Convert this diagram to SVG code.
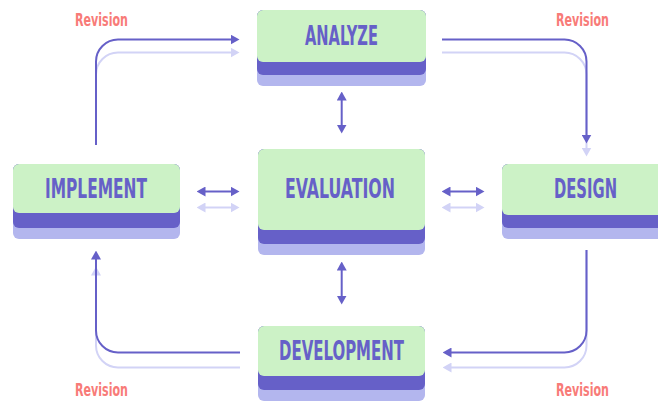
<svg xmlns="http://www.w3.org/2000/svg" width="658" height="401" viewBox="0 0 658 401">
<defs>
<style>
.g{fill:#ccf2c6}
.d{fill:#6660c8}
.l{fill:#b3b6ee}
.t{font-family:"DejaVu Sans","Liberation Sans",sans-serif;font-weight:bold;font-stretch:condensed;fill:#6660c8;font-size:26px}
.r{font-family:"DejaVu Sans","Liberation Sans",sans-serif;font-weight:bold;font-stretch:condensed;fill:#f87b78;font-size:18px}
.cd{fill:none;stroke:#6660c8;stroke-width:2}
.cl{fill:none;stroke:#d2d3f6;stroke-width:2}
</style>
<marker id="ad" viewBox="0 -5 9 10" refX="0.5" refY="0" markerWidth="9" markerHeight="10" markerUnits="userSpaceOnUse" orient="auto-start-reverse"><path d="M0,-5 L9,0 L0,5 z" fill="#6660c8"/></marker>
<marker id="al" viewBox="0 -5 9 10" refX="0.5" refY="0" markerWidth="9" markerHeight="10" markerUnits="userSpaceOnUse" orient="auto-start-reverse"><path d="M0,-5 L9,0 L0,5 z" fill="#d2d3f6"/></marker>
</defs>
<rect width="658" height="401" fill="#ffffff"/>
<g id="connectors">
<path class="cl" d="M96,145 V74.5 A22,22 0 0 1 118,52.5 H231" marker-end="url(#al)"/>
<path class="cd" d="M96,145 V61.5 A22,22 0 0 1 118,39.5 H231" marker-end="url(#ad)"/>
<path class="cl" d="M442,52.5 H564.5 A22,22 0 0 1 586.5,74.5 V148" marker-end="url(#al)"/>
<path class="cd" d="M442,39.5 H564.5 A22,22 0 0 1 586.5,61.5 V135" marker-end="url(#ad)"/>
<path class="cl" d="M586.5,250 V345.5 A22,22 0 0 1 564.5,367.5 H451" marker-end="url(#al)"/>
<path class="cd" d="M586.5,250 V330.5 A22,22 0 0 1 564.5,352.5 H451" marker-end="url(#ad)"/>
<path class="cl" d="M240,367.5 H118 A22,22 0 0 1 96,345.5 V275" marker-end="url(#al)"/>
<path class="cd" d="M240,352.5 H118 A22,22 0 0 1 96,330.5 V259" marker-end="url(#ad)"/>
<path class="cl" d="M205,207.5 H231" marker-start="url(#al)" marker-end="url(#al)"/>
<path class="cd" d="M205,191.5 H231" marker-start="url(#ad)" marker-end="url(#ad)"/>
<path class="cl" d="M450,207.5 H476" marker-start="url(#al)" marker-end="url(#al)"/>
<path class="cd" d="M450,191.5 H476" marker-start="url(#ad)" marker-end="url(#ad)"/>
<path class="cd" d="M341.7,100 V125" marker-start="url(#ad)" marker-end="url(#ad)"/>
<path class="cd" d="M341.7,270 V296" marker-start="url(#ad)" marker-end="url(#ad)"/>
</g>
<g id="analyze">
<rect class="l" x="257" y="10" width="169" height="76" rx="6"/>
<rect class="d" x="257" y="10" width="169" height="65" rx="6"/>
<rect class="g" x="257" y="10" width="169" height="52" rx="6"/>
<text class="t" x="305" y="45" textLength="73" lengthAdjust="spacingAndGlyphs">ANALYZE</text>
</g>
<g id="evaluation">
<rect class="l" x="258" y="149" width="167" height="106" rx="6"/>
<rect class="d" x="258" y="149" width="167" height="95" rx="6"/>
<rect class="g" x="258" y="149" width="167" height="81" rx="6"/>
<text class="t" x="285" y="197.5" textLength="110" lengthAdjust="spacingAndGlyphs" style="font-size:27px">EVALUATION</text>
</g>
<g id="implement">
<rect class="l" x="13" y="164" width="167" height="75" rx="6"/>
<rect class="d" x="13" y="164" width="167" height="64" rx="6"/>
<rect class="g" x="13" y="164" width="167" height="49" rx="6"/>
<text class="t" x="45" y="198" textLength="102" lengthAdjust="spacingAndGlyphs">IMPLEMENT</text>
</g>
<g id="design">
<rect class="l" x="502" y="164" width="168" height="75" rx="6"/>
<rect class="d" x="502" y="164" width="168" height="64" rx="6"/>
<rect class="g" x="502" y="164" width="168" height="51" rx="6"/>
<text class="t" x="554" y="198" textLength="63" lengthAdjust="spacingAndGlyphs">DESIGN</text>
</g>
<g id="development">
<rect class="l" x="258" y="326" width="167" height="75" rx="6"/>
<rect class="d" x="258" y="326" width="167" height="64" rx="6"/>
<rect class="g" x="258" y="326" width="167" height="50" rx="6"/>
<text class="t" x="279" y="360" textLength="125" lengthAdjust="spacingAndGlyphs">DEVELOPMENT</text>
</g>
<g id="labels">
<text class="r" x="75" y="26" textLength="53" lengthAdjust="spacingAndGlyphs">Revision</text>
<text class="r" x="556" y="26" textLength="53" lengthAdjust="spacingAndGlyphs">Revision</text>
<text class="r" x="75" y="396" textLength="53" lengthAdjust="spacingAndGlyphs">Revision</text>
<text class="r" x="556" y="396" textLength="53" lengthAdjust="spacingAndGlyphs">Revision</text>
</g>
</svg>
